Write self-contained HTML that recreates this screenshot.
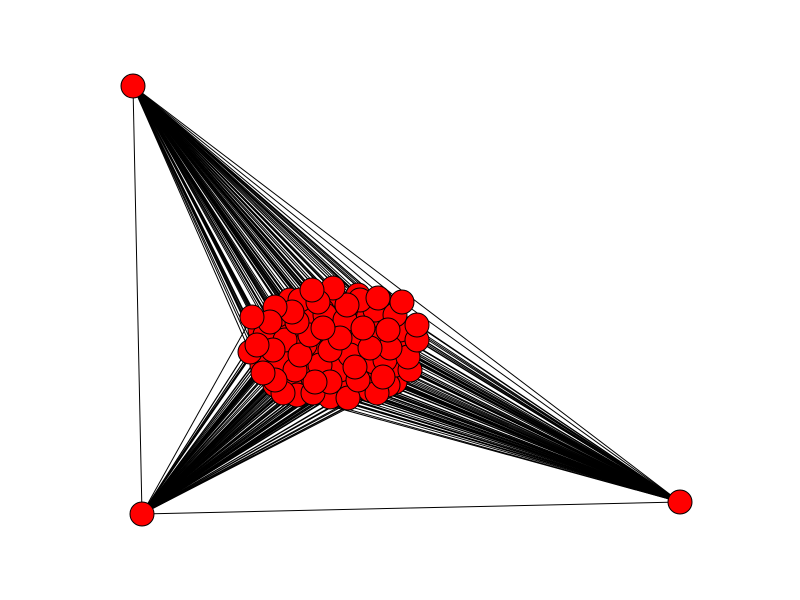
<!DOCTYPE html>
<html><head><meta charset="utf-8"><style>body{margin:0;background:#fff}svg{display:block}</style></head>
<body>
<svg id="chart" width="800" height="600" xmlns="http://www.w3.org/2000/svg">
<g id="edges"></g>
<g id="nodes"></g>
</svg>
<script>
const hubX=[133,142,680];
const hubY=[86,514,502];
const nodeX=[252,270,275,292,297,312,318,333,347,378,402,323,310,340,363,388,417,417,257,273,300,330,370,390,408,263,275,295,315,330,355,358,383,410,283,313,348,377,330,297,250,285,360,395,345,305,325,375,400,280,265,350,320,385,300,355,340,405,290,370,
 260,278,302,322,345,368,392,412,268,288,310,335,358,380,400,262,284,306,328,352,374,396,275,298,320,342,365,388,290,312,335,358,380,302,325,348,372,395,282,318];
const nodeY=[317,322,307,312,322,290,302,288,305,298,302,328,335,338,328,330,325,340,345,350,355,350,348,348,357,373,380,370,382,382,367,380,377,370,393,393,398,393,397,395,352,340,300,315,320,345,315,310,330,360,335,355,365,360,300,345,370,340,385,390,
 330,315,318,310,312,318,315,335,360,340,345,328,340,338,345,365,368,362,372,358,362,365,385,380,390,385,388,385,300,296,298,295,300,375,360,382,372,382,330,345];
const ns="http://www.w3.org/2000/svg";
const eg=document.getElementById('edges'),ng=document.getElementById('nodes');
function line(x1,y1,x2,y2){const l=document.createElementNS(ns,'line');
l.setAttribute('x1',x1);l.setAttribute('y1',y1);l.setAttribute('x2',x2);l.setAttribute('y2',y2);
l.setAttribute('stroke','#000');l.setAttribute('stroke-width','1');


eg.appendChild(l);}
for(let i=0;i<3;i++)for(let j=i+1;j<3;j++)line(hubX[i],hubY[i],hubX[j],hubY[j]);
for(let k=0;k<nodeX.length;k++)for(let i=0;i<3;i++)line(nodeX[k],nodeY[k],hubX[i],hubY[i]);
function node(x,y,name){const c=document.createElementNS(ns,'circle');
c.setAttribute('cx',x);c.setAttribute('cy',y);c.setAttribute('r',12);
c.setAttribute('fill','#f00');c.setAttribute('stroke','#000');c.setAttribute('stroke-width','1');


ng.appendChild(c);}
for(let k=nodeX.length-1;k>=0;k--)node(nodeX[k],nodeY[k],'cluster-node');
for(let i=0;i<3;i++)node(hubX[i],hubY[i],'hub-node');
</script>
</body></html>
